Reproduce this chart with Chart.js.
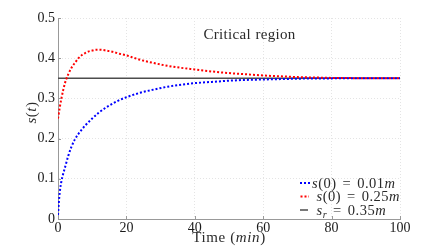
<!DOCTYPE html>
<html><head><meta charset="utf-8">
<script src="https://cdn.jsdelivr.net/npm/chart.js@4.4.0/dist/chart.umd.min.js"></script>
<style>html,body{margin:0;padding:0;background:#fff;}#wrap{width:443px;height:249px;}</style>
</head><body><div id="wrap"><canvas id="c" width="443" height="249"></canvas></div>
<script>
// ---- data ----
const timeBlue = [0,0.25,0.5,1,1.5,2,3,4,5,6,7,8,10,12,14,16,18,20,24,28,32,36,40,45,50,55,60,65,70,75,80,85,90,95,100];
const sBlue    = [0.01,0.042,0.066,0.094,0.112,0.127,0.157,0.181,0.199,0.212,0.223,0.233,0.25,0.265,0.277,0.287,0.296,0.303,0.314,0.322,0.329,0.334,0.338,0.341,0.344,0.346,0.347,0.348,0.349,0.3495,0.3498,0.3499,0.35,0.35,0.35];
const timeRed  = [0,0.5,1,1.5,2,2.5,3,4,5,6,7,8,9,10,11,12,13,14,16,18,20,24,28,32,36,40,45,50,55,60,65,70,75,80,85,90,95,100];
const sRed     = [0.25,0.277,0.3,0.32,0.337,0.35,0.36,0.377,0.389,0.4,0.408,0.413,0.417,0.419,0.421,0.421,0.4205,0.419,0.416,0.411,0.407,0.396,0.388,0.381,0.376,0.372,0.367,0.363,0.36,0.357,0.355,0.353,0.352,0.351,0.3505,0.3503,0.3501,0.35];
const timeRef  = [0,100];
const sRef     = [0.35,0.35];
const xTicks = [0,20,40,60,80,100];
const yTicks = [0,0.1,0.2,0.3,0.4,0.5];
const seriesLabels = ['$s$(0) = 0.01$m$','$s$(0) = 0.25$m$','$s$_r = 0.35$m$'];
const xTitle = 'Time ($min$)';
const yTitle = '$s$($t$)';
const noteText = 'Critical region';

const SERIF = '"Liberation Serif", "DejaVu Serif", serif';
const colors = ['#0000ff','#ff0000','#4d4d4d'];

function runs(str){
  const out=[]; let it=false;
  for(let i=0;i<str.length;i++){
    const ch=str[i];
    if(ch==='$'){it=!it;continue;}
    if(ch==='_'){out.push({t:str[i+1],it:true,sub:true});i++;continue;}
    if(ch===' '){out.push({t:' ',sp:true});continue;}
    const last=out[out.length-1];
    if(last&&!last.sub&&!last.sp&&last.it===it) last.t+=ch; else out.push({t:ch,it:it});
  }
  return out;
}
function setFont(ctx,r,size,ls){
  const s=r.sub?size*0.7:size;
  ctx.font=(r.it?'italic ':'')+s+'px '+SERIF;
  ctx.letterSpacing=ls+'px';
}
function richWidth(ctx,rs,size,spw,ls){
  let w=0;
  rs.forEach(r=>{
    if(r.sp){w+=spw;return;}
    setFont(ctx,r,size,ls);
    r.w=ctx.measureText(r.t).width; w+=r.w;
  });
  return w;
}
function drawRich(ctx,str,x,y,size,align,color,spw,ls){
  ls=ls||0;
  const rs=runs(str);
  const w=richWidth(ctx,rs,size,spw,ls);
  let cx = align==='center'? x-w/2 : align==='right'? x-w : x;
  ctx.fillStyle=color; ctx.textAlign='left'; ctx.textBaseline='alphabetic';
  rs.forEach(r=>{
    if(r.sp){cx+=spw;return;}
    setFont(ctx,r,size,ls);
    ctx.fillText(r.t,cx,r.sub?y+3:y);
    cx+=r.w;
  });
  ctx.letterSpacing='0px';
  return w;
}

const textPlugin = {
  id:'texts',
  afterDraw(chart){
    const {ctx, chartArea:a, scales:{x,y}} = chart;
    ctx.save();
    // inner tick marks
    ctx.strokeStyle='#999'; ctx.lineWidth=1;
    xTicks.forEach(v=>{const px=Math.round(x.getPixelForValue(v))+0.5; ctx.beginPath(); ctx.moveTo(px,a.bottom); ctx.lineTo(px,a.bottom-3); ctx.stroke();});
    yTicks.forEach(v=>{const py=Math.round(y.getPixelForValue(v))+0.5; ctx.beginPath(); ctx.moveTo(a.left,py); ctx.lineTo(a.left+3,py); ctx.stroke();});
    // annotation
    drawRich(ctx,noteText,x.getPixelForValue(56),y.getPixelForValue(0.4475),15,'center','#2a2a2a',4.5,0.3);
    // x title
    drawRich(ctx,xTitle,(a.left+a.right)/2,242,15,'center','#2a2a2a',4.5,0.6);
    // y title
    ctx.save();
    ctx.translate(31,(a.top+a.bottom)/2-6);
    ctx.rotate(-Math.PI/2);
    drawRich(ctx,yTitle,0,5,15,'center','#2a2a2a',3,0.5);
    ctx.restore();
    // legend
    const rowsY=[a.bottom-31.5,a.bottom-18,a.bottom-4.5];
    const sampleX=[[300,311],[300.5,309],[300,308]];
    const textX=[312,316.5,316.5];
    chart.data.datasets.forEach((ds,i)=>{
      const ly=rowsY[i]-4.5;
      ctx.save();
      ctx.strokeStyle=ds.borderColor; ctx.lineWidth=ds.borderWidth; ctx.setLineDash(ds.borderDash||[]);
      ctx.beginPath(); ctx.moveTo(sampleX[i][0],ly); ctx.lineTo(sampleX[i][1],ly); ctx.stroke();
      ctx.restore();
      drawRich(ctx,ds.label,textX[i],rowsY[i],14.5,'left','#2a2a2a',6,0.5);
    });
    ctx.restore();
  }
};

new Chart(document.getElementById('c'),{
  type:'line',
  data:{datasets:[
    {label:seriesLabels[0],data:timeBlue.map((t,i)=>({x:t,y:sBlue[i]})),borderColor:colors[0],borderWidth:2,borderDash:[2,2],pointRadius:0,cubicInterpolationMode:'monotone',fill:false},
    {label:seriesLabels[1],data:timeRed.map((t,i)=>({x:t,y:sRed[i]})),borderColor:colors[1],borderWidth:2,borderDash:[2,2],pointRadius:0,cubicInterpolationMode:'monotone',fill:false},
    {label:seriesLabels[2],data:timeRef.map((t,i)=>({x:t,y:sRef[i]})),borderColor:colors[2],borderWidth:1.5,pointRadius:0,fill:false}
  ]},
  options:{
    responsive:false, animation:false, devicePixelRatio:1,
    layout:{padding:{top:18,right:43,left:0,bottom:0}},
    plugins:{legend:{display:false},tooltip:{enabled:false}},
    scales:{
      x:{type:'linear',min:0,max:100,
        afterBuildTicks:s=>{s.ticks=xTicks.map(v=>({value:v}));},
        afterFit:s=>{s.height=30;},
        grid:{color:'#e4e4e4',lineWidth:1,drawTicks:false},
        border:{color:'#999',width:1,dash:[1,2]},
        ticks:{font:{family:SERIF,size:14},color:'#1a1a1a',padding:1,maxRotation:0,autoSkip:false,callback:v=>String(v)}},
      y:{type:'linear',min:0,max:0.5,
        afterBuildTicks:s=>{s.ticks=yTicks.map(v=>({value:v}));},
        afterFit:s=>{s.width=58;},
        grid:{color:'#e4e4e4',lineWidth:1,drawTicks:false},
        border:{color:'#999',width:1,dash:[1,2]},
        ticks:{font:{family:SERIF,size:14},color:'#1a1a1a',padding:3,autoSkip:false,callback:v=>String(v)}}
    }
  },
  plugins:[textPlugin]
});
</script></body></html>
